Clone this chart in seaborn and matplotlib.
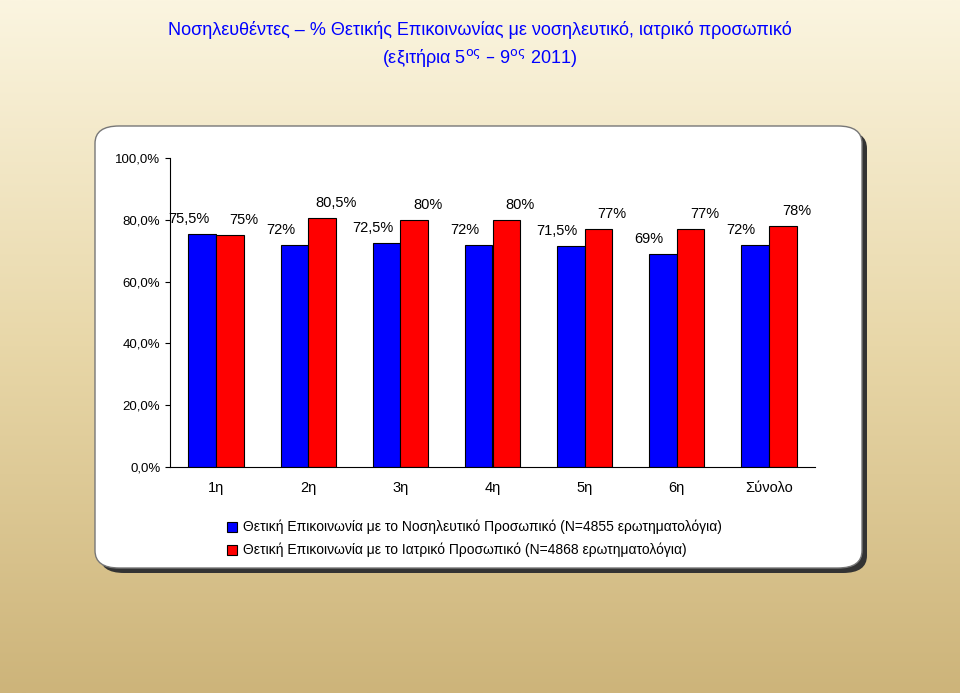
import numpy as np
import pandas as pd
import matplotlib
matplotlib.use("Agg")
import matplotlib.pyplot as plt
from matplotlib.patches import FancyBboxPatch
from matplotlib.colors import LinearSegmentedColormap
import seaborn as sns

plt.rcParams["font.family"] = "Liberation Sans"

categories = ["1η", "2η", "3η", "4η", "5η", "6η", "Σύνολο"]
nurse_vals = [75.5, 72, 72.5, 72, 71.5, 69, 72]
doctor_vals = [75, 80.5, 80, 80, 77, 77, 78]
nurse_labels = ["75,5%", "72%", "72,5%", "72%", "71,5%", "69%", "72%"]
doctor_labels = ["75%", "80,5%", "80%", "80%", "77%", "77%", "78%"]
series = ["Θετική Επικοινωνία με το Νοσηλευτικό Προσωπικό (Ν=4855 ερωτηματολόγια)",
          "Θετική Επικοινωνία με το Ιατρικό Προσωπικό (Ν=4868 ερωτηματολόγια)"]

df = pd.DataFrame({
    "cat": categories * 2,
    "val": nurse_vals + doctor_vals,
    "series": [series[0]] * 7 + [series[1]] * 7,
})

W, H = 960, 693
fig = plt.figure(figsize=(W / 100, H / 100), dpi=100)

bg = fig.add_axes([0, 0, 1, 1])
grad = np.linspace(0, 1, 256)[:, None]
cm = LinearSegmentedColormap.from_list("bg", ["#FBF5E0", "#E8D7A8", "#CDB47A"])
bg.imshow(grad, aspect="auto", cmap=cm, extent=[0, 1, 0, 1], origin="upper")
bg.set_axis_off()

fig.text(0.5, 1 - 30 / H, "Νοσηλευθέντες – % Θετικής Επικοινωνίας με νοσηλευτικό, ιατρικό προσωπικό",
         ha="center", va="center", color="#0000FF", fontsize=13)
fig.text(0.5, 1 - 58 / H, "(εξιτήρια 5$^{\\mathrm{ος}}$ – 9$^{\\mathrm{ος}}$ 2011)",
         ha="center", va="center", color="#0000FF", fontsize=13)

px0, py0, px1, py1 = 95 / W, 1 - 568 / H, 862 / W, 1 - 126 / H
shadow = FancyBboxPatch((px0 + 5 / W, py0 - 5 / H), px1 - px0, py1 - py0,
                        boxstyle="round,pad=0,rounding_size=0.025", transform=fig.transFigure,
                        facecolor="#333333", edgecolor="none", zorder=1)
panel = FancyBboxPatch((px0, py0), px1 - px0, py1 - py0,
                       boxstyle="round,pad=0,rounding_size=0.025", transform=fig.transFigure,
                       facecolor="white", edgecolor="#777777", lw=1, zorder=2)
fig.patches.extend([shadow, panel])

ax = fig.add_axes([170 / W, 1 - 467 / H, (815 - 170) / W, (467 - 158) / H])
ax.set_zorder(3)
ax.patch.set_alpha(0)
sns.barplot(data=df, x="cat", y="val", hue="series", palette=["#0000FF", "#FF0000"],
            saturation=1, edgecolor="black", linewidth=0.8, width=0.6, ax=ax, legend=False)
ax.set_ylim(0, 100)
ax.set_yticks(np.arange(0, 101, 20))
ax.set_yticklabels([f"{v:.1f}%".replace(".", ",") for v in np.arange(0, 101, 20)], fontsize=9.5)
ax.set_xlabel("")
ax.set_ylabel("")
ax.tick_params(axis="x", length=0, labelsize=10.5, pad=10)
for s in ["top", "right"]:
    ax.spines[s].set_visible(False)

for i in range(7):
    ax.text(i - 0.3, nurse_vals[i] + 3.5, nurse_labels[i], ha="center", fontsize=10.5)
    ax.text(i + 0.3, doctor_vals[i] + 3.5, doctor_labels[i], ha="center", fontsize=10.5)

for k, (c, lab) in enumerate(zip(["#0000FF", "#FF0000"], series)):
    y = 1 - (527 + k * 23) / H
    fig.patches.append(plt.Rectangle((227 / W, y - 5 / H), 10 / W, 10 / H, transform=fig.transFigure,
                                     facecolor=c, edgecolor="black", lw=0.8, zorder=4))
    fig.text(243 / W, y, lab, va="center", ha="left", fontsize=10, zorder=4)

fig.savefig("out.png", dpi=100)
